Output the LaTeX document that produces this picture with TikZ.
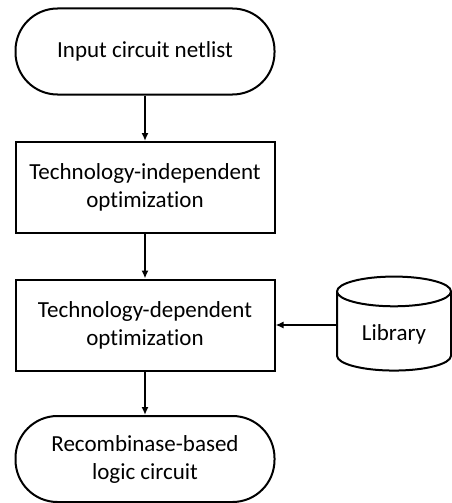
\documentclass[tikz,border=0pt]{standalone}
\usepackage{fontspec}
\setmainfont{Carlito}[Ligatures=NoCommon]
\usetikzlibrary{shapes.geometric,arrows.meta}

\tikzset{
  terminal/.style={draw, line width=2pt, rounded corners=42pt, minimum width=259pt, minimum height=86pt, align=center, font=\fontsize{23}{28}\selectfont},
  process/.style={draw, line width=2pt, minimum width=259pt, minimum height=91pt, align=center, font=\fontsize{23}{28}\selectfont},
  store/.style={draw, line width=2pt, cylinder, shape border rotate=90, aspect=0.42, minimum width=114pt, minimum height=94pt, font=\fontsize{23}{28}\selectfont},
  flow/.style={-{Latex[length=8pt,width=7pt]}, line width=2pt}
}

\begin{document}
\begin{tikzpicture}[x=1pt,y=-1pt]
\useasboundingbox (0,0) rectangle (451,503);

\node[terminal] (input) at (145,51.5) {Input circuit netlist};
\node[process] (indep) at (145,187.5) {Technology-independent\\optimization};
\node[process] (dep) at (145,325) {Technology-dependent\\optimization};
\node[store] (lib) at (394,334) {Library};
\node[terminal] (output) at (145,459) {Recombinase-based\\logic circuit};

\draw[flow] (input) -- (indep);
\draw[flow] (indep) -- (dep);
\draw[flow] (dep) -- (output);
\draw[flow] (dep.east -| lib.west) -- (dep.east);

\end{tikzpicture}
\end{document}
